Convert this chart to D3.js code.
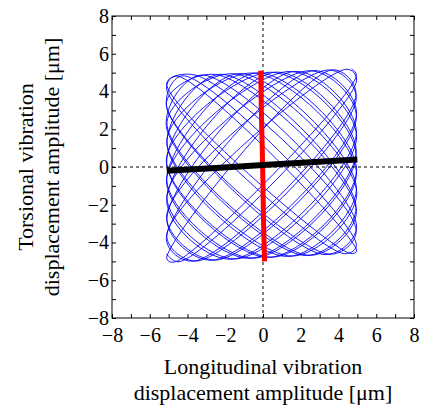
<!DOCTYPE html>
<html>
<head>
<meta charset="utf-8">
<script src="https://cdn.jsdelivr.net/npm/d3@7"></script>
<style>
  body { margin: 0; background: #fff; }
  text { font-family: "Liberation Serif", "Times New Roman", serif; fill: #000; }
</style>
</head>
<body>
<div id="chart"></div>
<script>
const width = 424;
const height = 407;

// tick values of both axes
const ticks = [-8, -7, -6, -5, -4, -3, -2, -1, 0, 1, 2, 3, 4, 5, 6, 7, 8];
const tickLabels = [-8, -6, -4, -2, 0, 2, 4, 6, 8];

// blue: combined vibration trace, turning points
// (4 per loop: top, right, bottom, left)
const blueX = [
  4.7, 4.95, -4.7, -5.1,    3.7, 4.93, -3.7, -5.12,   2.7, 4.96, -2.7, -5.09,
  1.7, 4.95, -1.7, -5.1,    0.7, 4.94, -0.7, -5.11,  -0.3, 4.96, 0.3, -5.1,
  -1.3, 4.95, 1.3, -5.08,  -2.3, 4.93, 2.3, -5.12,  -3.3, 4.96, 3.3, -5.1,
  -4.3, 4.95, 4.3, -5.11,  -4.6, 4.96, 4.6, -5.1,   -3.55, 4.94, 3.55, -5.12,
  -2.5, 4.95, 2.5, -5.09,  -1.55, 4.97, 1.55, -5.1, -0.5, 4.95, 0.5, -5.12,
  0.5, 4.93, -0.5, -5.1,   1.45, 4.96, -1.45, -5.09, 2.5, 4.95, -2.5, -5.11,
  3.5, 4.94, -3.5, -5.1,   4.45, 4.96, -4.45, -5.12
];
const blueY = [
  5.19, 4.85, -5.04, -4.85,  5.15, 3.85, -4.99, -3.85,  5.11, 2.85, -4.94, -2.85,
  5.07, 1.85, -4.89, -1.85,  5.03, 0.85, -4.84, -0.85,  4.99, -0.15, -4.79, 0.15,
  4.95, -1.15, -4.74, 1.15,  4.91, -2.15, -4.69, 2.15,  4.87, -3.15, -4.64, 3.15,
  4.83, -4.15, -4.59, 4.15,  4.82, -4.45, -4.57, 4.45,  4.86, -3.4, -4.62, 3.4,
  4.9, -2.35, -4.68, 2.35,   4.94, -1.4, -4.72, 1.4,    4.98, -0.35, -4.78, 0.35,
  5.02, 0.65, -4.83, -0.65,  5.06, 1.6, -4.87, -1.6,    5.1, 2.65, -4.93, -2.65,
  5.14, 3.65, -4.98, -3.65,  5.18, 4.6, -5.02, -4.6
];

// red: torsional only
const redX = [-0.12, -0.09, -0.04, 0.0, 0.03, 0.08];
const redY = [5.1, 3.1, 1.0, -1.0, -3.0, -5.0];

// black: longitudinal only
const blackX = [-5.1, -2.5, 0.0, 2.5, 5.0];
const blackY = [-0.2, -0.05, 0.1, 0.25, 0.4];

const margin = { top: 16, right: 10, bottom: 89, left: 112 };
const w = 302, h = 302;

const svg = d3.select("#chart")
  .append("svg")
  .attr("width", width)
  .attr("height", height);

const g = svg.append("g")
  .attr("transform", "translate(" + margin.left + "," + margin.top + ")");

const x = d3.scaleLinear().domain([-8, 8]).range([0, w]);
const y = d3.scaleLinear().domain([-8, 8]).range([h, 0]);

g.append("clipPath").attr("id", "clip")
  .append("rect").attr("width", w).attr("height", h);

const plot = g.append("g").attr("clip-path", "url(#clip)");

// blue trace
plot.append("path")
  .datum(d3.zip(blueX, blueY))
  .attr("fill", "none")
  .attr("stroke", "#0000ff")
  .attr("stroke-width", 0.9)
  .attr("d", d3.line()
    .x(d => x(d[0]))
    .y(d => y(d[1]))
    .curve(d3.curveCatmullRom.alpha(0.5)));

// dashed zero lines
plot.append("line")
  .attr("x1", x(0)).attr("x2", x(0))
  .attr("y1", 0).attr("y2", h)
  .attr("stroke", "#000").attr("stroke-width", 1)
  .attr("stroke-dasharray", "3,3");
plot.append("line")
  .attr("x1", 0).attr("x2", w)
  .attr("y1", y(0)).attr("y2", y(0))
  .attr("stroke", "#000").attr("stroke-width", 1)
  .attr("stroke-dasharray", "3,3");

// red and black traces
const straight = d3.line().x(d => x(d[0])).y(d => y(d[1]));
plot.append("path")
  .datum(d3.zip(redX, redY))
  .attr("fill", "none")
  .attr("stroke", "#ff0000")
  .attr("stroke-width", 5)
  .attr("d", straight);
plot.append("path")
  .datum(d3.zip(blackX, blackY))
  .attr("fill", "none")
  .attr("stroke", "#000")
  .attr("stroke-width", 6)
  .attr("d", straight);

// axes, ticks inward on all sides
const fmt = d => tickLabels.includes(d) ? d3.format("")(d) : "";

const axes = [
  g.append("g")
    .attr("transform", "translate(0," + h + ")")
    .call(d3.axisBottom(x).tickValues(ticks).tickSize(-4).tickPadding(10).tickFormat(fmt)),
  g.append("g")
    .call(d3.axisTop(x).tickValues(ticks).tickSize(-4).tickFormat("")),
  g.append("g")
    .call(d3.axisLeft(y).tickValues(ticks).tickSize(-4).tickPadding(3).tickFormat(fmt)),
  g.append("g")
    .attr("transform", "translate(" + w + ",0)")
    .call(d3.axisRight(y).tickValues(ticks).tickSize(-4).tickFormat(""))
];
axes.forEach(a => a
  .attr("font-family", "Liberation Serif")
  .attr("font-size", 20));

g.selectAll(".domain").remove();
g.selectAll(".tick line").attr("stroke", "#000");

g.append("rect")
  .attr("width", w).attr("height", h)
  .attr("fill", "none").attr("stroke", "#000").attr("stroke-width", 1);

// axis titles
const xt = svg.append("text")
  .attr("text-anchor", "middle")
  .style("font-size", "22px");
xt.append("tspan").attr("x", margin.left + w / 2).attr("y", 374).text("Longitudinal vibration");
xt.append("tspan").attr("x", margin.left + w / 2).attr("y", 400).text("displacement amplitude [μm]");

svg.append("text")
  .attr("transform", "translate(33," + (margin.top + h / 2) + ") rotate(-90)")
  .attr("text-anchor", "middle")
  .style("font-size", "22px")
  .text("Torsional vibration");
svg.append("text")
  .attr("transform", "translate(59," + (margin.top + h / 2) + ") rotate(-90)")
  .attr("text-anchor", "middle")
  .style("font-size", "22px")
  .text("displacement amplitude [μm]");
</script>
</body>
</html>
